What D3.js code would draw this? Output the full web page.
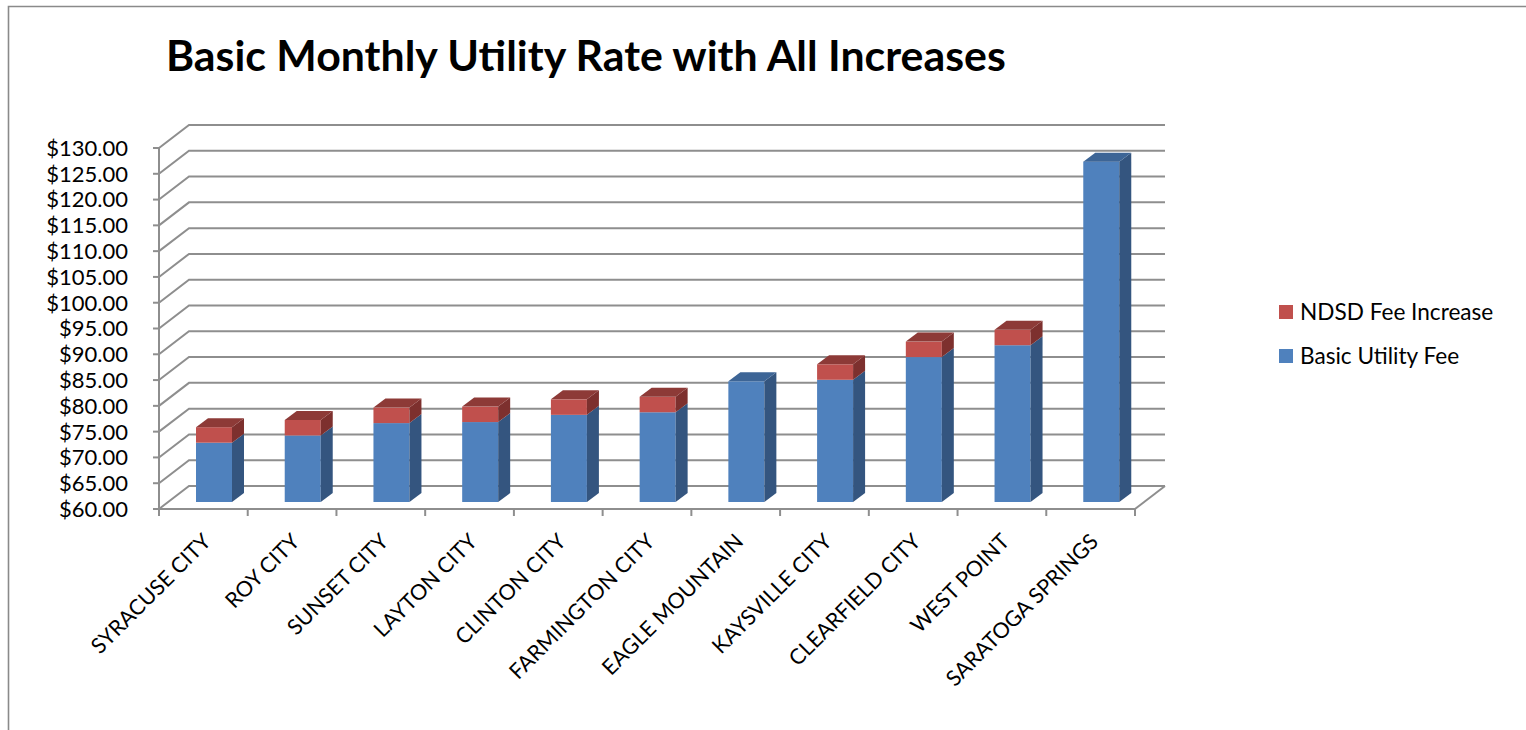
<!DOCTYPE html>
<html><head><meta charset="utf-8">
<script src="https://cdn.jsdelivr.net/npm/d3@7"></script>
<style>
body{margin:0;background:#fff}
svg{display:block}
text{font-family:Lato,"Open Sans",sans-serif;fill:#000}
</style>
</head><body>
<svg id="c" width="1526" height="730"></svg>
<script>
const categories = ["SYRACUSE CITY","ROY CITY","SUNSET CITY","LAYTON CITY","CLINTON CITY","FARMINGTON CITY","EAGLE MOUNTAIN","KAYSVILLE CITY","CLEARFIELD CITY","WEST POINT","SARATOGA SPRINGS"];
const basicUtilityFee = [71.5,72.9,75.3,75.5,76.9,77.4,83.4,83.7,88.1,90.4,126.0];
const ndsdFeeIncrease = [3,3,3,3,3,3,0,3,3,3,0];
const yTicks = [60,65,70,75,80,85,90,95,100,105,110,115,120,125,130];
const seriesNames = ["Basic Utility Fee","NDSD Fee Increase"];
const titleText = "Basic Monthly Utility Rate with All Increases";

const svg = d3.select("#c");
const W = 1526, H = 730;

// frame
svg.append("path").attr("d", `M8.5,${H} L8.5,6.5 L${W},6.5`).attr("fill","none").attr("stroke","#8a8a8a").attr("stroke-width",1.6);

// title
const title = svg.append("text").attr("x",166).attr("y",71).attr("font-weight","bold").attr("font-size",36).text(titleText);
const tl = title.node().getComputedTextLength();
title.attr("font-size", 36*840/tl);

// scales
const x = d3.scaleBand().domain(categories).range([159,1135]);
const y = d3.scaleLinear().domain([60,130]).range([509,148]);
const DX = 30, DY = -23;          // wall depth
const BX = 9, BY = -7;            // bar front plane offset
const bdx = 12, bdy = -9;         // bar depth
const barW = 36;
const gridColor = "#8e8e8e";

const g = svg.append("g");
// back wall + side wall gridlines
yTicks.forEach(v => {
  const yy = y(v);
  g.append("path").attr("d", `M159,${yy} L${159+DX},${yy+DY} L${1135+DX},${yy+DY}`)
    .attr("fill","none").attr("stroke",gridColor).attr("stroke-width",2);
});
// floor right edge
g.append("path").attr("d", `M1135,${y(60)} L${1135+DX},${y(60)+DY}`).attr("fill","none").attr("stroke",gridColor).attr("stroke-width",2);

// y axis line and ticks
g.append("line").attr("x1",159).attr("x2",159).attr("y1",y(130)).attr("y2",y(60)).attr("stroke",gridColor).attr("stroke-width",2);
yTicks.forEach(v => {
  g.append("line").attr("x1",153).attr("x2",159).attr("y1",y(v)).attr("y2",y(v)).attr("stroke",gridColor).attr("stroke-width",2);
  g.append("text").attr("x",128).attr("y",y(v)).attr("dy","0.36em").attr("text-anchor","end").attr("font-size",22).text(d3.format("$.2f")(v));
});
// x axis line and ticks
g.append("line").attr("x1",159).attr("x2",1135).attr("y1",y(60)).attr("y2",y(60)).attr("stroke",gridColor).attr("stroke-width",2);
[...categories.map(c=>x(c)), 1135].forEach(t => {
  g.append("line").attr("x1",t).attr("x2",t).attr("y1",y(60)).attr("y2",y(60)+7).attr("stroke",gridColor).attr("stroke-width",2);
});

// bars
const rows = categories.map((c,i)=>({cat:c, "Basic Utility Fee":basicUtilityFee[i], "NDSD Fee Increase":ndsdFeeIncrease[i]}));
const stacked = d3.stack().keys(seriesNames)(rows);
const colors = {
  "Basic Utility Fee":{front:"#4f81bd", side:"#34557f", top:"#3d6596"},
  "NDSD Fee Increase":{front:"#c0504d", side:"#7d302e", top:"#8d3a37"}
};
const barsG = svg.append("g");
categories.forEach((c,i) => {
  const x0 = x(c) + 28 + BX, x1 = x0 + barW;
  let topSeries = null, topVal = null;
  stacked.forEach(s => {
    const d = s[i];
    if (d[1] - d[0] <= 0) return;
    const lo = (d[0] === 0 ? 60 : d[0]);
    const yb = y(lo) + BY, yt = y(d[1]) + BY;
    const col = colors[s.key];
    barsG.append("rect").attr("x",x0).attr("y",yt).attr("width",barW).attr("height",yb-yt).attr("fill",col.front);
    barsG.append("path").attr("d",`M${x1},${yb} L${x1+bdx},${yb+bdy} L${x1+bdx},${yt+bdy} L${x1},${yt} Z`).attr("fill",col.side);
    topSeries = s.key; topVal = yt;
  });
  const col = colors[topSeries];
  barsG.append("path").attr("d",`M${x0},${topVal} L${x0+bdx},${topVal+bdy} L${x1+bdx},${topVal+bdy} L${x1},${topVal} Z`).attr("fill",col.top);
});

// x labels
categories.forEach(c => {
  const cx = x(c) + x.bandwidth()/2;
  svg.append("text").attr("transform",`translate(${cx-3},${531}) rotate(-45)`)
    .attr("text-anchor","end").attr("dominant-baseline","hanging").attr("font-size",21.5).text(c);
});

// legend
const legend = [{name:"NDSD Fee Increase", col:"#c0504d", y:312},{name:"Basic Utility Fee", col:"#4f81bd", y:356}];
legend.forEach(l => {
  svg.append("rect").attr("x",1279).attr("y",l.y-7).attr("width",14).attr("height",14).attr("fill",l.col);
  svg.append("text").attr("x",1300).attr("y",l.y).attr("dy","0.36em").attr("font-size",22.6).text(l.name);
});
</script>
</body></html>
